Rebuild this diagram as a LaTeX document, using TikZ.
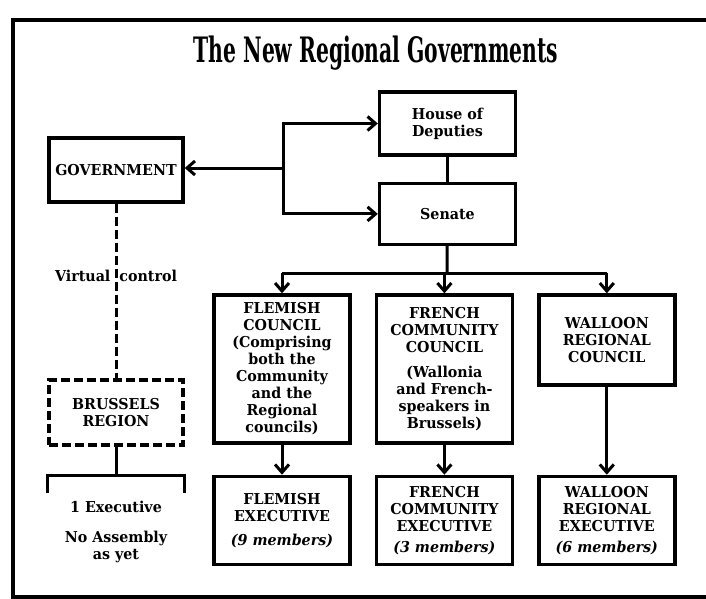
\documentclass[tikz,border=0pt]{standalone}
\usepackage{graphicx}
\usepackage{fontspec}
\newfontfamily\boxfont{DejaVu Serif}[FakeStretch=0.95]
\newfontfamily\headfont{DejaVu Serif}
\usetikzlibrary{positioning,arrows.meta}

\begin{document}
\begin{tikzpicture}[
    x=1pt, y=-1pt,
    node distance=25pt and 23pt,
    box/.style={draw, line width=3.4pt, align=center, inner sep=0pt,
                font=\boxfont\fontsize{15}{17}\selectfont\bfseries,
                minimum width=136pt, minimum height=63pt},
    arr/.style={-{Straight Barb[length=8pt,width=14pt]}, line width=3pt},
    link/.style={line width=3pt},
    label/.style={font=\boxfont\fontsize{15}{17}\selectfont\bfseries, align=center}
  ]
    \useasboundingbox (0,0) rectangle (706,598);
    % frame
    \draw[line width=3.4pt] (706,20) -- (13,20) -- (13,597) -- (706,597);
    \node (title) at (376,53)
      {\scalebox{0.58}[1]{\headfont\fontsize{35}{35}\selectfont\bfseries The New Regional Governments}};

    \node[box, minimum width=134pt, minimum height=64pt] (gov) at (116,170) {GOVERNMENT};
    \node[box] (hod) at (447.5,123.5) {House of\\Deputies};
    \node[box, below=25pt of hod, minimum height=61pt] (senate) {Senate};

    \node[box, minimum height=148pt] (flc) at (282,369)
      {FLEMISH\\COUNCIL\\(Comprising\\both the\\Community\\and the\\Regional\\councils)};
    \node[box, right=of flc, minimum height=148pt] (frc)
      {FRENCH\\COMMUNITY\\COUNCIL\\[8pt](Wallonia\\and French-\\speakers in\\Brussels)};
    \node[box, right=23pt of frc.north east, anchor=north west, minimum height=90pt] (wac)
      {WALLOON\\REGIONAL\\COUNCIL};

    \node[box, below=30pt of flc, minimum height=88pt] (fle)
      {FLEMISH\\EXECUTIVE\\[7pt]{\itshape (9 members)}};
    \node[box, right=of fle, minimum height=88pt] (fre)
      {FRENCH\\COMMUNITY\\EXECUTIVE\\[4pt]{\itshape (3 members)}};
    \node[box, right=of fre, minimum height=88pt] (wae)
      {WALLOON\\REGIONAL\\EXECUTIVE\\[4pt]{\itshape (6 members)}};

    % Brussels
    \node[box, dash pattern=on 9pt off 4pt, minimum width=134pt, minimum height=65pt] (bru)
      at (116,412.5) {BRUSSELS\\REGION};
    \node[label] (vc) at (116,276) {Virtual\hspace{0.6em}control};
    \node[label] (note) at (116,532) {1 Executive\\[13pt]No Assembly\\as yet};

    % connectors
    \coordinate (split) at (283,168);
    \draw[arr] (split) -- (split -| gov.east);
    \draw[arr] (split) |- (hod);
    \draw[arr] (split) |- (senate);
    \draw[link] (hod) -- (senate);
    \coordinate (tee) at (447,273);
    \draw[link] (senate) -- (tee);
    \draw[link] (flc.north |- tee) -- (wac.north |- tee);
    \foreach \n in {flc,frc,wac}
      \draw[arr] (\n.north |- tee) -- (\n);
    \foreach \a/\b in {flc/fle,frc/fre,wac/wae}
      \draw[arr] (\a) -- (\b);

    \draw[link, dash pattern=on 9pt off 4pt] (gov) -- (bru);
    \coordinate (brk) at (116,475);
    \draw[link] (bru) -- (brk);
    \draw[link] (bru.west |- brk) ++(0,18) -- ++(0,-18) -- (bru.east |- brk) -- ++(0,18);
  \end{tikzpicture}
\end{document}
